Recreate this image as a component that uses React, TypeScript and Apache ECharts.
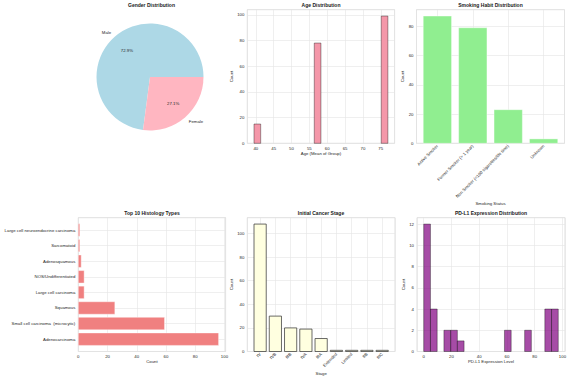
import React, { useEffect, useRef } from 'react';
import * as echarts from 'echarts';

const genderNames = ['Male', 'Female'];
const genderCounts = [140, 52];

const ageBinStarts = [39.5, 56.375, 75.125];
const ageBinEnds = [41.375, 58.25, 77];
const ageCounts = [15, 78, 99];

const smokingCats = ['Active Smoker', 'Former Smoker (> 1 year)', 'Non Smoker (<100 cigarettes/life time)', 'Unknown'];
const smokingCounts = [87, 79, 23, 3];

const histologyCats = [
  'Adenocarcinoma',
  'Small cell carcinoma  (microcytic)',
  'Squamous',
  'Large cell carcinoma',
  'NOS/Undifferentiated',
  'Adenosquamous',
  'Sarcomatoid',
  'Large cell neuroendocrine carcinoma',
];
const histologyCounts = [96, 59, 25, 4, 4, 2, 1, 1];

const stageCats = ['IV', 'IVB', 'IIIB', 'IVA', 'IIIA', 'Extended', 'Limited', 'IIB', 'IIIC'];
const stageCounts = [108, 30, 20, 19, 11, 1, 1, 1, 1];

const pdl1BinStarts = [0, 4.85, 14.55, 19.4, 24.25, 58.2, 72.75, 87.3, 92.15];
const pdl1BinEnds = [4.85, 9.7, 19.4, 24.25, 29.1, 63.05, 77.6, 92.15, 97];
const pdl1Counts = [12, 4, 2, 2, 1, 2, 2, 4, 4];

const FONT = '"Liberation Sans", Arial, sans-serif';
const TICK = 4.3;
const LABEL_COLOR = '#262626';

function rectBetween(api: any, a: number[], b: number[]) {
  const p0 = api.coord(a);
  const p1 = api.coord(b);
  return {
    x: Math.min(p0[0], p1[0]),
    y: Math.min(p0[1], p1[1]),
    width: Math.abs(p1[0] - p0[0]),
    height: Math.abs(p1[1] - p0[1]),
  };
}

const onMultiple = (iv: number) => (v: number) =>
  Math.abs(v / iv - Math.round(v / iv)) < 1e-6 ? String(Math.round(v)) : '';

const catFormatter = (cats: string[]) => (v: number) =>
  Math.abs(v - Math.round(v)) < 1e-6 && cats[Math.round(v)] !== undefined ? cats[Math.round(v)] : '';

function catRange(n: number): [number, number] {
  const lo = -0.4;
  const hi = n - 1 + 0.4;
  const m = (hi - lo) * 0.05;
  return [lo - m, hi + m];
}

function axisBase(gridIndex: number) {
  return {
    gridIndex,
    axisLine: { show: false },
    axisTick: { show: false },
    splitLine: { show: true, lineStyle: { color: '#e4e4e4', width: 0.6 } },
    axisLabel: { fontSize: TICK, color: LABEL_COLOR, fontFamily: FONT, margin: 3 },
    nameTextStyle: { fontSize: TICK, color: LABEL_COLOR, fontFamily: FONT },
    nameLocation: 'middle',
  };
}

function gridBox(left: number, top: number, width: number, height: number) {
  return {
    left, top, width, height,
    show: true,
    borderColor: '#d2d2d2',
    borderWidth: 0.7,
    backgroundColor: '#fff',
    containLabel: false,
  };
}

function titleText(x: number, y: number, text: string) {
  return {
    type: 'text',
    x, y,
    silent: true,
    style: {
      text,
      fontSize: 5,
      fontWeight: 'bold',
      fontFamily: FONT,
      fill: '#1a1a1a',
      align: 'center',
      verticalAlign: 'middle',
    },
  };
}

export default function App() {
  const ref = useRef<HTMLDivElement>(null);

  useEffect(() => {
    document.body.style.margin = '0';
    if (!ref.current) return;
    const chart = echarts.init(ref.current, undefined, { renderer: 'svg' });

    const ageW = ageBinEnds[0] - ageBinStarts[0];
    const ageMin = ageBinStarts[0] - ageW;
    const ageMax = ageBinEnds[ageBinEnds.length - 1] + ageW;
    const ageYMax = Math.max(...ageCounts) * 1.05;

    const smokeR = catRange(smokingCats.length);
    const smokeYMax = Math.max(...smokingCounts) * 1.05;

    const histR = catRange(histologyCats.length);
    const histXMax = Math.max(...histologyCounts) * 1.05;

    const stageR = catRange(stageCats.length);
    const stageYMax = Math.max(...stageCounts) * 1.05;

    const pdW = pdl1BinEnds[0] - pdl1BinStarts[0];
    const pdMin = pdl1BinStarts[0] - pdW;
    const pdMax = pdl1BinEnds[pdl1BinEnds.length - 1] + pdW;
    const pdYMax = Math.max(...pdl1Counts) * 1.05;

    const pieR = 53.5;
    const pieColors = ['#add8e6', '#ffb6c1'];

    const option: any = {
      animation: false,
      backgroundColor: '#fff',
      textStyle: { fontFamily: FONT },
      graphic: [
        titleText(151.5, 5, 'Gender Distribution'),
        titleText(321, 5, 'Age Distribution'),
        titleText(490.5, 5, 'Smoking Habit Distribution'),
        titleText(152, 213.3, 'Top 10 Histology Types'),
        titleText(321, 213.3, 'Initial Cancer Stage'),
        titleText(491, 213.3, 'PD-L1 Expression Distribution'),
      ],
      grid: [
        gridBox(247.3, 9.7, 147.3, 133.6), // age
        gridBox(416.5, 9.7, 148, 133.6), // smoking
        gridBox(78.3, 217.7, 147.3, 133.8), // histology
        gridBox(247.3, 217.7, 147.7, 133.8), // stage
        gridBox(417, 217.7, 148, 133.8), // pd-l1
      ],
      xAxis: [
        {
          ...axisBase(0), type: 'value', min: ageMin, max: ageMax,
          minInterval: 5, maxInterval: 5, splitNumber: 8,
          name: 'Age (Mean of Group)', nameGap: 7.6,
          axisLabel: { ...axisBase(0).axisLabel, formatter: onMultiple(5) },
        },
        {
          ...axisBase(1), type: 'value', min: smokeR[0], max: smokeR[1],
          minInterval: 1, maxInterval: 1,
          name: 'Smoking Status', nameGap: 57.5,
          axisLabel: { ...axisBase(1).axisLabel, rotate: 45, margin: 2, formatter: catFormatter(smokingCats) },
        },
        {
          ...axisBase(2), type: 'value', min: 0, max: histXMax, interval: 20,
          name: 'Count', nameGap: 7.3,
          axisLabel: { ...axisBase(2).axisLabel, formatter: onMultiple(20) },
        },
        {
          ...axisBase(3), type: 'value', min: stageR[0], max: stageR[1],
          minInterval: 1, maxInterval: 1,
          name: 'Stage', nameGap: 19.5,
          axisLabel: { ...axisBase(3).axisLabel, rotate: 45, margin: 2, formatter: catFormatter(stageCats) },
        },
        {
          ...axisBase(4), type: 'value', min: pdMin, max: pdMax,
          minInterval: 20, maxInterval: 20, splitNumber: 5,
          name: 'PD-L1 Expression Level', nameGap: 7,
          axisLabel: { ...axisBase(4).axisLabel, formatter: onMultiple(20) },
        },
      ],
      yAxis: [
        {
          ...axisBase(0), type: 'value', min: 0, max: ageYMax, interval: 20,
          name: 'Count', nameGap: 10.8,
          axisLabel: { ...axisBase(0).axisLabel, formatter: onMultiple(20) },
        },
        {
          ...axisBase(1), type: 'value', min: 0, max: smokeYMax, interval: 20,
          name: 'Count', nameGap: 7.5,
          axisLabel: { ...axisBase(1).axisLabel, formatter: onMultiple(20) },
        },
        {
          ...axisBase(2), type: 'value', min: histR[0], max: histR[1],
          minInterval: 1, maxInterval: 1,
          axisLabel: { ...axisBase(2).axisLabel, formatter: catFormatter(histologyCats) },
        },
        {
          ...axisBase(3), type: 'value', min: 0, max: stageYMax, interval: 20,
          name: 'Count', nameGap: 10.4,
          axisLabel: { ...axisBase(3).axisLabel, formatter: onMultiple(20) },
        },
        {
          ...axisBase(4), type: 'value', min: 0, max: pdYMax, interval: 2,
          name: 'Count', nameGap: 8,
          axisLabel: { ...axisBase(4).axisLabel, formatter: onMultiple(2) },
        },
      ],
      series: [
        {
          type: 'pie',
          center: [150, 77],
          radius: pieR,
          startAngle: 0,
          clockwise: false,
          silent: true,
          avoidLabelOverlap: false,
          data: genderNames.map((n, i) => ({ name: n, value: genderCounts[i], itemStyle: { color: pieColors[i] } })),
          label: {
            show: true, position: 'outside', formatter: '{b}',
            fontSize: TICK, color: LABEL_COLOR, fontFamily: FONT, distanceToLabelLine: 0,
          },
          labelLine: { show: false, length: pieR * 0.1, length2: 0 },
        },
        {
          type: 'pie',
          center: [150, 77],
          radius: [pieR * 0.2, pieR],
          startAngle: 0,
          clockwise: false,
          silent: true,
          avoidLabelOverlap: false,
          data: genderNames.map((n, i) => ({ name: n, value: genderCounts[i], itemStyle: { color: 'rgba(0,0,0,0)' } })),
          label: {
            show: true, position: 'inside',
            formatter: (p: any) => p.percent.toFixed(1) + '%',
            fontSize: TICK, color: LABEL_COLOR, fontFamily: FONT,
          },
          labelLine: { show: false },
        },
        {
          type: 'custom', xAxisIndex: 0, yAxisIndex: 0, silent: true,
          data: ageCounts.map((c, i) => [ageBinStarts[i], ageBinEnds[i], c]),
          encode: { x: [0, 1], y: 2 },
          renderItem: (_p: any, api: any) => ({
            type: 'rect',
            shape: rectBetween(api, [api.value(0), 0], [api.value(1), api.value(2)]),
            style: { fill: '#f497a9', stroke: 'rgba(0,0,0,0.6)', lineWidth: 0.6 },
          }),
        },
        {
          type: 'custom', xAxisIndex: 1, yAxisIndex: 1, silent: true,
          data: smokingCounts.map((c, i) => [i, c]),
          encode: { x: 0, y: 1 },
          renderItem: (_p: any, api: any) => ({
            type: 'rect',
            shape: rectBetween(api, [api.value(0) - 0.4, 0], [api.value(0) + 0.4, api.value(1)]),
            style: { fill: '#90ee90', stroke: '#ffffff', lineWidth: 0.4 },
          }),
        },
        {
          type: 'custom', xAxisIndex: 2, yAxisIndex: 2, silent: true,
          data: histologyCounts.map((c, i) => [c, i]),
          encode: { x: 0, y: 1 },
          renderItem: (_p: any, api: any) => ({
            type: 'rect',
            shape: rectBetween(api, [0, api.value(1) - 0.4], [api.value(0), api.value(1) + 0.4]),
            style: { fill: '#f08080', stroke: '#ffffff', lineWidth: 0.4 },
          }),
        },
        {
          type: 'custom', xAxisIndex: 3, yAxisIndex: 3, silent: true,
          data: stageCounts.map((c, i) => [i, c]),
          encode: { x: 0, y: 1 },
          renderItem: (_p: any, api: any) => ({
            type: 'rect',
            shape: rectBetween(api, [api.value(0) - 0.4, 0], [api.value(0) + 0.4, api.value(1)]),
            style: { fill: '#ffffe0', stroke: '#3a3a3a', lineWidth: 0.75 },
          }),
        },
        {
          type: 'custom', xAxisIndex: 4, yAxisIndex: 4, silent: true,
          data: pdl1Counts.map((c, i) => [pdl1BinStarts[i], pdl1BinEnds[i], c]),
          encode: { x: [0, 1], y: 2 },
          renderItem: (_p: any, api: any) => ({
            type: 'rect',
            shape: rectBetween(api, [api.value(0), 0], [api.value(1), api.value(2)]),
            style: { fill: 'rgba(128,0,128,0.7)', stroke: 'rgba(0,0,0,0.7)', lineWidth: 0.5 },
          }),
        },
      ],
    };

    chart.setOption(option);
    return () => chart.dispose();
  }, []);

  return <div ref={ref} style={{ width: 571, height: 380 }} />;
}
